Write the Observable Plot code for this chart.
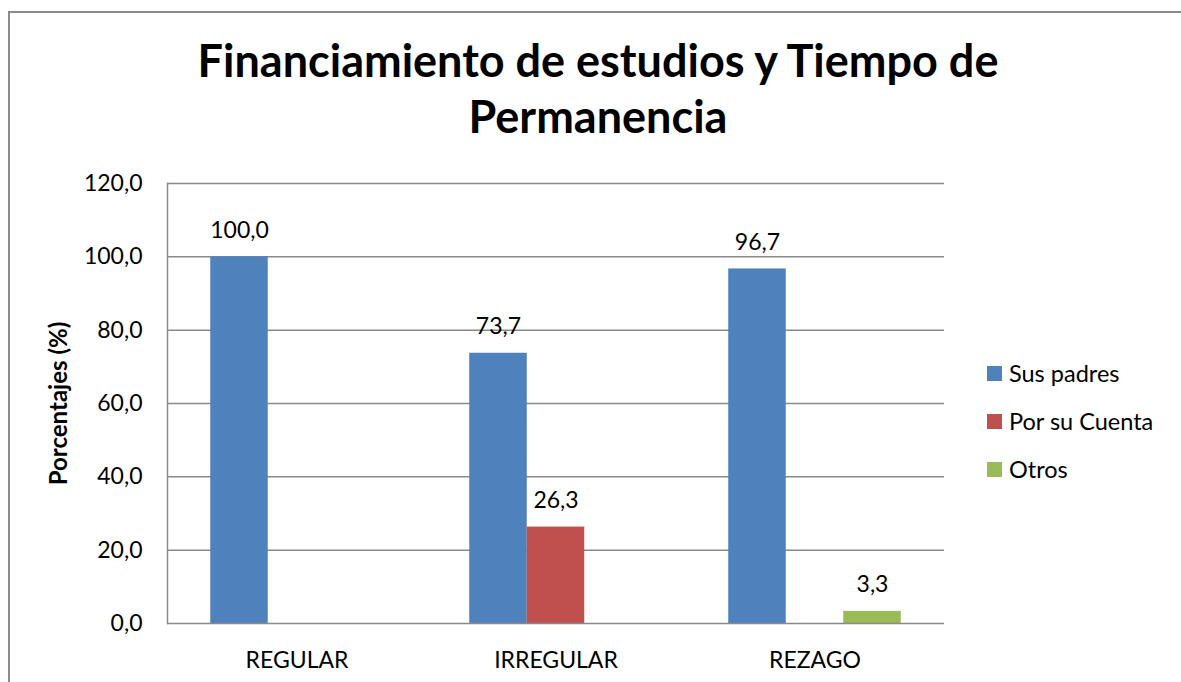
<!DOCTYPE html>
<html>
<head>
<meta charset="utf-8">
<script src="https://cdn.jsdelivr.net/npm/d3@7"></script>
<script src="https://cdn.jsdelivr.net/npm/@observablehq/plot@0.6"></script>
<style>
  html, body { margin: 0; padding: 0; background: #fff; }
  #wrap { position: relative; width: 1181px; height: 682px; overflow: hidden; font-family: Lato, "Open Sans", sans-serif; color: #000; }
  #border { position: absolute; left: 8px; top: 11px; width: 1400px; height: 900px; border: 2px solid #8a8a8a; box-sizing: border-box; }
  #title { position: absolute; left: 0; top: 32px; width: 1196px; text-align: center; font-size: 45px; font-weight: bold; line-height: 56px; }
  #chart { position: absolute; left: 0; top: 160px; }
  #legend { position: absolute; left: 987px; top: 349px; font-size: 23.5px; }
  #legend .row { display: flex; align-items: center; height: 48px; }
  #legend .sw { width: 15px; height: 15px; margin-right: 7px; }
  g[aria-label="y-axis label"] text, g[aria-label="y-axis label"] { font-weight: bold; font-size: 24px; }
</style>
</head>
<body>
<div id="wrap">
  <div id="border"></div>
  <div id="title">Financiamiento de estudios y Tiempo de<br>Permanencia</div>
  <div id="chart"></div>
  <div id="legend"></div>
</div>
<script>
const categories = ["REGULAR", "IRREGULAR", "REZAGO"];
const series = ["Sus padres", "Por su Cuenta", "Otros"];
const susPadres = [100.0, 73.7, 96.7];
const porSuCuenta = [null, 26.3, null];
const otros = [null, null, 3.3];
const colors = ["#4F81BD", "#C0504D", "#9BBB59"];
const yTicks = [0, 20, 40, 60, 80, 100, 120];
const yLabel = "Porcentajes (%)";
const titleText = "Financiamiento de estudios y Tiempo de Permanencia";

const valuesBySeries = [susPadres, porSuCuenta, otros];
const table = [];
categories.forEach((c, i) => {
  series.forEach((s, j) => {
    const v = valuesBySeries[j][i];
    if (v != null) table.push({category: c, series: s, value: v});
  });
});

const fmt = d => d.toFixed(1).replace(".", ",");
const gridColor = "#8a8a8a";

const chart = Plot.plot({
  width: 1181,
  height: 522,
  marginLeft: 167,
  marginRight: 237,
  marginTop: 23,
  marginBottom: 59,
  style: {fontFamily: "Lato, 'Open Sans', sans-serif", fontSize: "23px", color: "#000", background: "transparent"},
  fx: {domain: categories, padding: 0, round: false},
  x: {domain: series, paddingInner: 0, paddingOuter: 0.752, round: false, axis: null},
  y: {domain: [0, 120], axis: null},
  color: {domain: series, range: colors},
  marks: [
    Plot.gridY(yTicks.filter(d => d > 0), {stroke: gridColor, strokeOpacity: 1, strokeWidth: 1.5}),
    Plot.barY(table, {fx: "category", x: "series", y: "value", fill: "series"}),
    Plot.ruleY([0], {stroke: gridColor, strokeWidth: 1.5}),
    Plot.frame({anchor: "left", facetAnchor: "left", stroke: gridColor, strokeWidth: 1.5}),
    Plot.text(table, {fx: "category", x: "series", y: "value", text: d => fmt(d.value), lineAnchor: "bottom", dy: -19, fill: "#000"}),
    Plot.axisY({ticks: yTicks, tickSize: 0, tickPadding: 25, tickFormat: fmt, label: yLabel, labelAnchor: "center", labelOffset: 118, labelArrow: "none"}),
    Plot.axisFx({anchor: "bottom", tickSize: 0, tickPadding: 28, label: null})
  ]
});
document.getElementById("chart").appendChild(chart);

const legend = document.getElementById("legend");
series.forEach((s, i) => {
  const row = document.createElement("div");
  row.className = "row";
  const sw = document.createElement("div");
  sw.className = "sw";
  sw.style.background = colors[i];
  const t = document.createElement("span");
  t.textContent = s;
  row.appendChild(sw);
  row.appendChild(t);
  legend.appendChild(row);
});
</script>
</body>
</html>
